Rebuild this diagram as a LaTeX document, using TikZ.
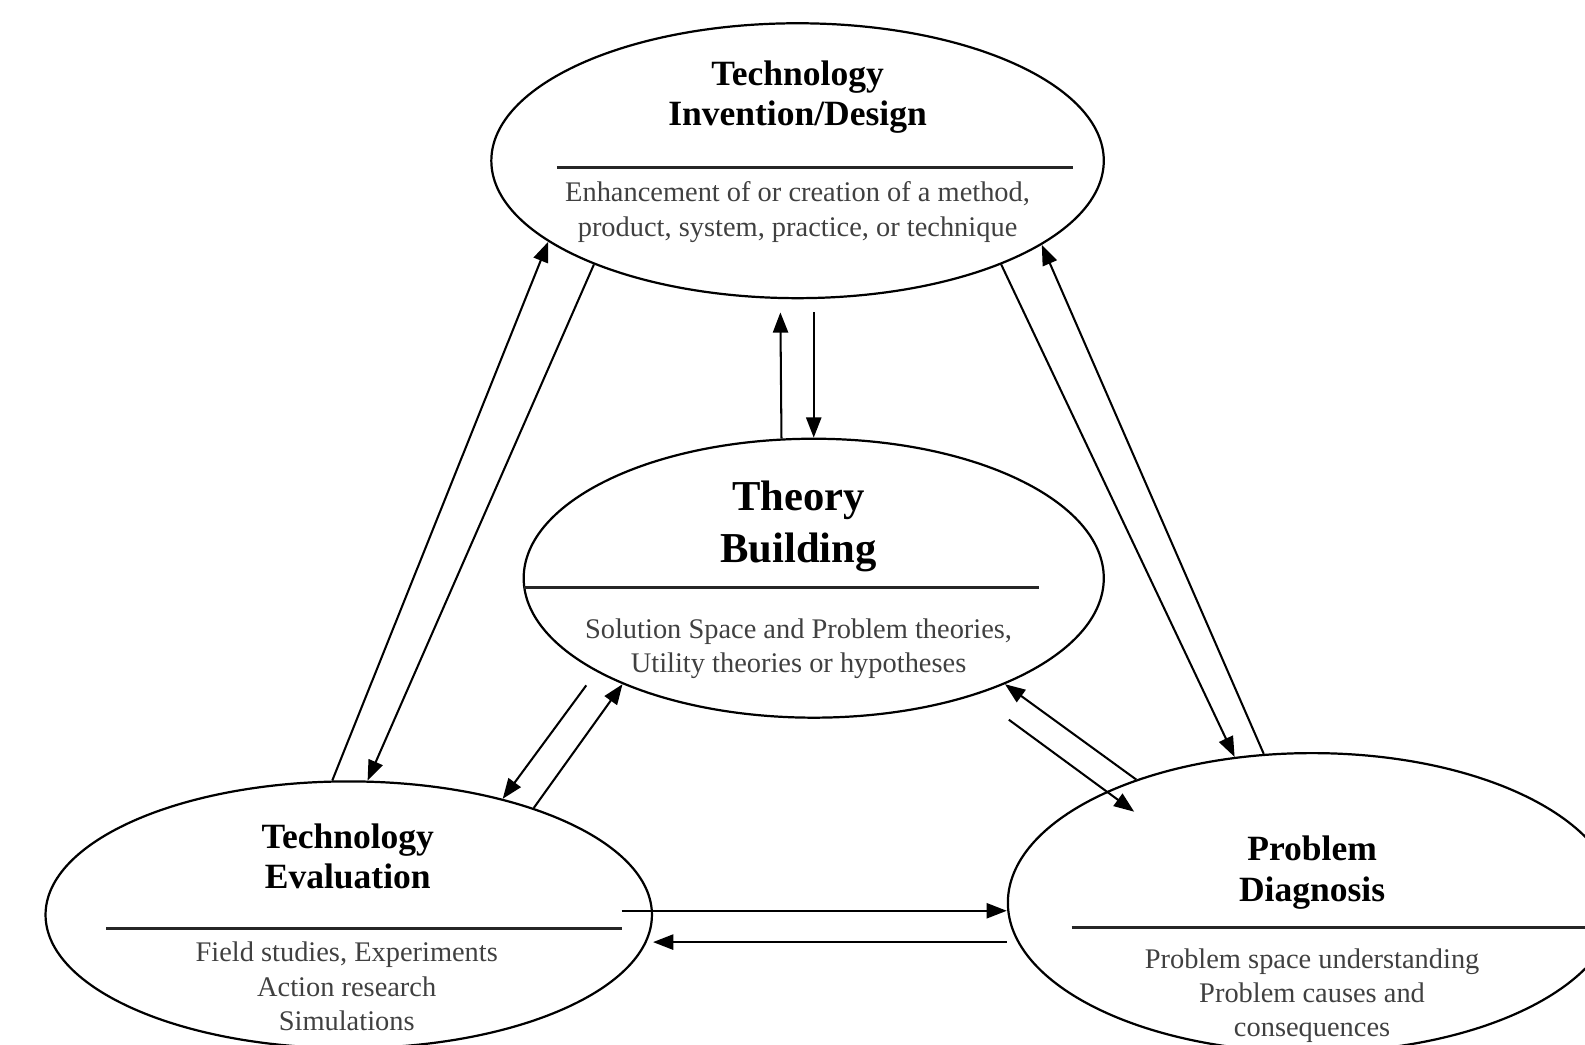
\documentclass[tikz,border=0pt]{standalone}
\usepackage{fontspec}
\setmainfont{Liberation Serif}
\usetikzlibrary{arrows.meta,shapes.geometric}

\begin{document}
\begin{tikzpicture}[x=0.02cm,y=-0.02cm,
        stage/.style={draw,ellipse,line width=1.25pt,inner sep=0pt},
        head/.style={align=center,font=\fontsize{20}{22.8}\selectfont\bfseries},
        bighead/.style={align=center,font=\fontsize{24}{29}\selectfont\bfseries},
        body/.style={align=center,text=black!75,font=\fontsize{16}{19.4}\selectfont},
        rule/.style={line width=1.7pt,black!85},
        flow/.style={line width=1.15pt,-{Triangle[length=0.4cm,width=0.3cm]}}]
        \useasboundingbox (0,0) rectangle (1568,1033);
        \clip (0,0) rectangle (1568,1033);
        %% Ellipses
        \node[stage,minimum width=12.12cm,minimum height=5.44cm] (inv) at (789,159) {};
        \node[stage,minimum width=11.48cm,minimum height=5.52cm] (thy) at (805,572) {};
        \node[stage,minimum width=12cm,minimum height=5.28cm] (evl) at (345,905) {};
        \node[stage,minimum width=12.04cm,minimum height=5.92cm] (prb) at (1298,893) {};
        %% Labels
        \node[head] (invH) at ([shift={(0,-63)}]inv.center) {Technology\\Invention/Design};
        \node[body] (invB) at ([shift={(0,51)}]inv.center) {Enhancement of or creation of a method,\\product, system, practice, or technique};
        \draw[rule] ([shift={(-238,7)}]inv.center) -- ([shift={(272,7)}]inv.center);
        \node[bighead] (thyH) at ([shift={(-15,-51)}]thy.center) {Theory\\Building};
        \node[body] (thyB) at ([shift={(-15,70)}]thy.center) {Solution Space and Problem theories,\\Utility theories or hypotheses};
        \draw[rule] ([shift={(-287,9)}]thy.center) -- ([shift={(223,9)}]thy.center);
        \node[head] (evlH) at ([shift={(-1,-58)}]evl.center) {Technology\\Evaluation};
        \node[body] (evlB) at ([shift={(-2,71)}]evl.center) {Field studies, Experiments\\Action research\\Simulations};
        \draw[rule] ([shift={(-240,14)}]evl.center) -- ([shift={(270,14)}]evl.center);
        \node[head] (prbH) at ([shift={(0,-30)}]prb.center) {Problem\\Diagnosis};
        \node[body] (prbB) at ([shift={(0,92)}]prb.center) {Problem space understanding\\Problem causes and\\consequences};
        \draw[rule] ([shift={(-238,25)}]prb.center) -- ([shift={(290,25)}]prb.center);
        %% Free ends
        \coordinate (invD) at ([shift={(16,13)}]inv.south);
        \coordinate (invU) at ([shift={(-17,13)}]inv.south);
        \coordinate (thyG) at ([shift={(-225,106)}]thy.center);
        \coordinate (thyJ) at ([shift={(193,140)}]thy.center);
        \coordinate (prbJ) at ([shift={(-176,-90)}]prb.center);
        \coordinate (evlK) at ([shift={(270,-4)}]evl.center);
        \coordinate (prbL) at ([shift={(0,39)}]prb.west);
        %% Arrows
        \draw[flow] (evl.97) -- (inv.198);
        \draw[flow] (inv.207) -- (evl.82);
        \draw[flow] (invD) -- (thy.90);
        \draw[flow] (thy.103) -- (invU);
        \draw[flow] (inv.333) -- (prb.118);
        \draw[flow] (prb.108) -- (inv.341);
        \draw[flow] (thyG) -- (evl.37);
        \draw[flow] (evl.30) -- (thy.209);
        \draw[flow] (prb.145) -- (thy.331);
        \draw[flow] (thyJ) -- (prbJ);
        \draw[flow] (evlK) -- (evlK -| prb.west);
        \draw[flow] (prbL) -- (prbL -| evl.east);
\end{tikzpicture}
\end{document}
